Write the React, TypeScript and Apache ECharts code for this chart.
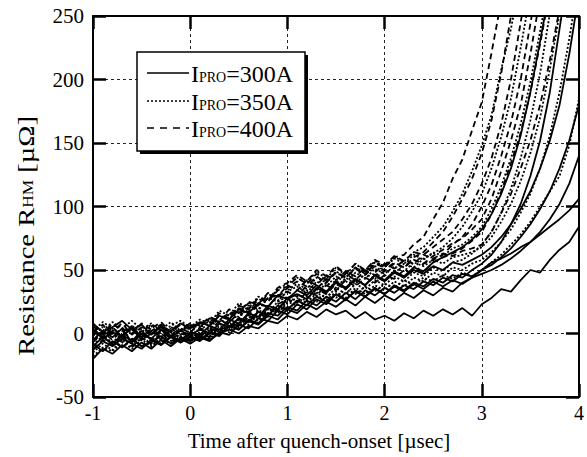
import React, { useEffect, useRef } from "react";
import * as echarts from "echarts";

// time axis samples [µsec]
const TIME = [
  -1.0, -0.9, -0.8, -0.7, -0.6, -0.5, -0.4, -0.3, -0.2, -0.1,
  0.0, 0.1, 0.2, 0.3, 0.4, 0.5, 0.6, 0.7, 0.8, 0.9,
  1.0, 1.1, 1.2, 1.3, 1.4, 1.5, 1.6, 1.7, 1.8, 1.9,
  2.0, 2.1, 2.2, 2.3, 2.4, 2.5, 2.6, 2.7, 2.8, 2.9,
  3.0, 3.1, 3.2, 3.3, 3.4, 3.5, 3.6, 3.7, 3.8, 3.9, 4.0,
];

const X_TICKS = [-1, 0, 1, 2, 3, 4];
const Y_TICKS = [-50, 0, 50, 100, 150, 200, 250];

// IPRO = 400A (dashed)
const D1 = [3, -4, 5, -2, 6, -3, 2, 7, -1, 4, 1, 8, 6, 14, 11, 20, 17, 27, 25, 34, 37, 44, 39, 47, 42, 48, 44, 52, 47, 55, 52, 60, 62, 70, 76, 90, 103, 122, 137, 160, 182, 221, 262];
const D2 = [-7, 1, -5, 3, -8, -1, -6, 2, -4, 0, -2, 4, 2, 10, 8, 17, 14, 23, 21, 30, 33, 29, 38, 35, 43, 40, 47, 42, 50, 46, 49, 55, 52, 60, 64, 72, 80, 92, 106, 122, 142, 168, 205, 250, 296];
const D3 = [6, -1, 8, 2, 5, -3, 4, 9, 1, 7, 3, 9, 7, 16, 12, 22, 19, 28, 26, 36, 40, 46, 41, 50, 45, 53, 47, 55, 50, 58, 54, 61, 57, 64, 62, 68, 74, 80, 90, 102, 118, 138, 165, 200, 245, 290];
const D4 = [-12, -5, -9, -2, -10, -4, -8, 0, -6, -3, -5, 0, -3, 5, 3, 11, 9, 17, 15, 23, 27, 24, 33, 30, 38, 34, 42, 37, 44, 40, 46, 43, 50, 47, 55, 58, 62, 70, 76, 86, 100, 117, 140, 166, 200, 244, 290];
const D5 = [1, 7, -2, 4, 0, 8, 3, -1, 5, 2, 6, 5, 12, 9, 17, 15, 24, 22, 31, 28, 36, 41, 37, 45, 40, 48, 44, 51, 46, 53, 50, 56, 52, 58, 55, 61, 66, 71, 75, 82, 90, 106, 128, 152, 180, 220, 265];
const D6 = [-6, 0, -10, -3, -7, 1, -5, -9, -2, -6, 0, -3, 4, 1, 9, 6, 14, 12, 20, 18, 27, 31, 27, 35, 31, 39, 35, 42, 38, 45, 41, 48, 44, 51, 48, 56, 60, 63, 67, 73, 80, 94, 112, 134, 158, 190, 228, 270];
const D7 = [4, -3, 2, 8, -1, 5, 0, 6, -2, 3, 8, 6, 13, 10, 19, 16, 25, 23, 32, 29, 38, 34, 42, 38, 46, 42, 49, 45, 52, 48, 55, 51, 58, 55, 62, 59, 63, 61, 65, 67, 70, 80, 95, 110, 130, 152, 180, 215, 256];

// IPRO = 350A (dotted)
const P1 = [-2, 5, 0, -6, 3, -1, 6, -4, 2, -3, 4, 2, 9, 6, 15, 12, 21, 18, 28, 25, 34, 39, 35, 44, 40, 49, 44, 52, 48, 56, 53, 60, 57, 64, 68, 76, 84, 96, 110, 128, 148, 172, 208, 240, 280];
const P2 = [-15, -8, -13, -5, -11, -3, -9, -6, -1, -7, -4, 1, -2, 6, 4, 12, 10, 18, 16, 25, 29, 25, 34, 31, 40, 36, 44, 39, 47, 43, 50, 47, 55, 52, 59, 63, 68, 75, 84, 96, 110, 130, 155, 185, 225, 268];
const P3 = [7, 2, 9, 4, 10, 3, 8, 1, 6, 10, 5, 11, 8, 18, 14, 24, 20, 29, 26, 35, 39, 44, 40, 49, 43, 52, 46, 55, 49, 57, 52, 59, 55, 62, 58, 64, 61, 67, 70, 76, 84, 98, 116, 138, 165, 198, 238, 280];
const P4 = [-9, -2, -7, 0, -5, -10, -3, -8, 1, -4, -1, -4, 3, 0, 8, 5, 13, 10, 19, 16, 24, 28, 24, 32, 28, 36, 31, 39, 35, 42, 38, 45, 41, 48, 45, 52, 49, 56, 58, 63, 70, 80, 95, 114, 138, 168, 205, 252];
const P5 = [2, 9, 4, -2, 6, 1, 7, 3, 9, 2, 7, 4, 11, 8, 16, 13, 22, 19, 28, 26, 33, 37, 32, 41, 37, 45, 40, 48, 43, 51, 47, 53, 49, 56, 53, 58, 55, 60, 62, 64, 68, 76, 88, 102, 120, 142, 170, 208, 252];
const P6 = [-18, -11, -14, -7, -12, -5, -10, -4, -8, -2, -6, -1, -4, 3, 1, 9, 7, 15, 13, 21, 18, 26, 22, 30, 26, 33, 28, 36, 31, 38, 34, 41, 37, 44, 41, 48, 45, 52, 50, 55, 58, 64, 72, 82, 95, 110, 130, 156, 190, 232, 280];
const P7 = [0, -6, 3, -3, 5, -4, 2, -5, 4, -1, 2, -2, 5, 2, 10, 7, 15, 12, 20, 17, 25, 22, 29, 25, 32, 28, 35, 31, 37, 33, 39, 36, 42, 38, 44, 41, 46, 43, 48, 45, 50, 56, 62, 70, 78, 88, 100, 112, 124, 148, 185];

// IPRO = 300A (solid)
const S1 = [-5, 2, -3, 4, -7, 0, -4, 3, -2, -6, 1, -1, 6, 3, 11, 8, 16, 13, 22, 19, 28, 31, 27, 36, 32, 40, 35, 43, 38, 46, 42, 49, 45, 52, 49, 56, 60, 64, 68, 74, 82, 94, 110, 130, 156, 190, 230, 272];
const S2 = [-20, -12, -16, -9, -14, -7, -12, -5, -10, -4, -8, -3, -6, 1, -1, 7, 4, 12, 10, 18, 15, 23, 19, 27, 23, 31, 26, 34, 29, 36, 31, 38, 34, 40, 37, 43, 40, 46, 44, 50, 55, 62, 72, 86, 102, 124, 152, 190, 240, 290];
const S3 = [8, 1, 5, 10, 3, 7, -1, 6, 2, 8, 4, 9, 6, 14, 11, 19, 16, 24, 21, 30, 27, 34, 30, 38, 33, 41, 36, 43, 38, 46, 41, 48, 44, 50, 47, 53, 50, 56, 54, 58, 62, 68, 76, 86, 98, 112, 130, 152, 180, 220, 268];
const S4 = [-10, -3, -8, -1, -6, 2, -5, -9, -2, -7, -3, -6, 0, -2, 6, 3, 11, 8, 16, 14, 21, 18, 26, 22, 29, 25, 32, 27, 34, 30, 36, 32, 38, 35, 41, 38, 44, 41, 47, 45, 50, 54, 60, 67, 76, 86, 98, 112, 130, 152, 180];
const S5 = [3, -4, 1, -2, 4, -5, 0, 5, -3, 2, -1, 3, 0, 8, 5, 12, 9, 17, 14, 22, 19, 26, 22, 29, 25, 31, 27, 33, 29, 35, 31, 37, 33, 39, 35, 41, 37, 42, 39, 44, 47, 50, 54, 59, 65, 72, 80, 90, 102, 118, 140];
const S6 = [-13, -6, -10, -4, -8, -12, -5, -9, -3, -7, -2, -5, 1, -1, 6, 3, 10, 7, 14, 11, 19, 16, 23, 19, 25, 21, 27, 22, 29, 24, 30, 26, 32, 28, 34, 30, 36, 33, 40, 44, 50, 56, 59, 63, 68, 72, 78, 84, 90, 97, 106];
const S7 = [-8, -14, -6, -11, -4, -10, -7, -2, -8, -4, -6, -2, -5, 0, 3, 0, 6, 4, 10, 8, 14, 11, 17, 13, 19, 15, 18, 12, 17, 11, 14, 10, 16, 12, 18, 14, 19, 15, 20, 14, 23, 28, 35, 33, 42, 50, 48, 58, 66, 72, 84];

const DASHED = [D1, D2, D3, D4, D5, D6, D7];
const DOTTED = [P1, P2, P3, P4, P5, P6, P7];
const SOLID = [S1, S2, S3, S4, S5, S6, S7];

const LEGEND_LABELS = ["300A", "350A", "400A"];

const SERIF = "Liberation Serif";
const DOT_DASH = [2, 2];
const DASH_DASH = [6, 4];

function App() {
  const ref = useRef<HTMLDivElement>(null);

  useEffect(() => {
    if (!ref.current) return;
    const chart = echarts.init(ref.current, undefined, { renderer: "svg" });

    const mk = (vals: number[], type: any) => ({
      type: "line",
      data: vals.map((v, i) => [TIME[i], v]),
      showSymbol: false,
      symbol: "none",
      silent: true,
      clip: true,
      lineStyle: { color: "#000", width: 1.8, type },
    });

    const series: any[] = [
      ...SOLID.map((s) => mk(s, "solid")),
      ...DOTTED.map((s) => mk(s, DOT_DASH)),
      ...DASHED.map((s) => mk(s, DASH_DASH)),
    ];

    const axisLine = { show: true, onZero: false, lineStyle: { color: "#000", width: 2 } };
    const axisTick = { show: true, inside: true, length: 13, lineStyle: { color: "#000", width: 2.5 } };
    const splitLine = { show: true, lineStyle: { color: "#222", width: 1, type: [3, 3] } };
    const label = { fontFamily: SERIF, fontSize: 20, color: "#000" };

    const legendRows = [
      { y: 73, dash: "solid" },
      { y: 101, dash: DOT_DASH },
      { y: 128, dash: [7, 6] },
    ];

    const graphic: any[] = [
      { type: "rect", shape: { x: 140, y: 55, width: 168, height: 99 }, style: { fill: "#000" }, z: 100 },
      { type: "rect", shape: { x: 137, y: 52, width: 168, height: 99 }, style: { fill: "#fff", stroke: "#000", lineWidth: 1.5 }, z: 101 },
      ...legendRows.map((r) => ({
        type: "line",
        shape: { x1: 147, y1: r.y, x2: 189, y2: r.y },
        style: { stroke: "#000", lineWidth: 1.5, lineDash: r.dash === "solid" ? null : r.dash },
        z: 102,
      })),
      ...legendRows.map((r, i) => ({
        type: "text",
        x: 191,
        y: r.y,
        z: 102,
        style: {
          text: `{a|I}{b|PRO}{a|=${LEGEND_LABELS[i]}}`,
          rich: {
            a: { fontFamily: SERIF, fontSize: 24, color: "#000", verticalAlign: "bottom", lineHeight: 26 },
            b: { fontFamily: SERIF, fontSize: 14, color: "#000", verticalAlign: "bottom", lineHeight: 26, padding: [0, 0, 2, 0] },
          },
          align: "left",
          verticalAlign: "middle",
        },
      })),
      {
        type: "text",
        x: 319,
        y: 441,
        z: 102,
        style: {
          text: "Time after quench-onset [µsec]",
          fontFamily: SERIF,
          fontSize: 21,
          fill: "#000",
          align: "center",
          verticalAlign: "middle",
        },
      },
      {
        type: "text",
        x: 25,
        y: 236,
        z: 102,
        rotation: Math.PI / 2,
        scaleX: 1.24,
        style: {
          text: "{a|Resistance R}{b|HM}{a| [µΩ]}",
          rich: {
            a: { fontFamily: SERIF, fontSize: 23, color: "#000", verticalAlign: "bottom", lineHeight: 25 },
            b: { fontFamily: SERIF, fontSize: 14, color: "#000", verticalAlign: "bottom", lineHeight: 25, padding: [0, 0, 2, 0] },
          },
          align: "center",
          verticalAlign: "middle",
        },
      },
    ];

    chart.setOption({
      animation: false,
      backgroundColor: "#fff",
      grid: { left: 93, right: 3, top: 16, bottom: 60, containLabel: false },
      xAxis: [
        {
          type: "value",
          min: X_TICKS[0],
          max: X_TICKS[X_TICKS.length - 1],
          interval: 1,
          position: "bottom",
          axisLine,
          axisTick,
          splitLine,
          axisLabel: { ...label, margin: 6 },
        },
        {
          type: "value",
          min: X_TICKS[0],
          max: X_TICKS[X_TICKS.length - 1],
          interval: 1,
          position: "top",
          axisLine,
          axisTick,
          splitLine: { show: false },
          axisLabel: { show: false },
        },
      ],
      yAxis: [
        {
          type: "value",
          min: Y_TICKS[0],
          max: Y_TICKS[Y_TICKS.length - 1],
          interval: 50,
          position: "left",
          axisLine,
          axisTick,
          splitLine,
          axisLabel: { ...label, fontSize: 21, margin: 9 },
        },
        {
          type: "value",
          min: Y_TICKS[0],
          max: Y_TICKS[Y_TICKS.length - 1],
          interval: 50,
          position: "right",
          axisLine,
          axisTick,
          splitLine: { show: false },
          axisLabel: { show: false },
        },
      ],
      series,
      graphic,
    });

    return () => chart.dispose();
  }, []);

  return (
    <div
      ref={ref}
      style={{ position: "fixed", left: 0, top: 0, width: 587, height: 457, background: "#fff" }}
    />
  );
}

export default App;
